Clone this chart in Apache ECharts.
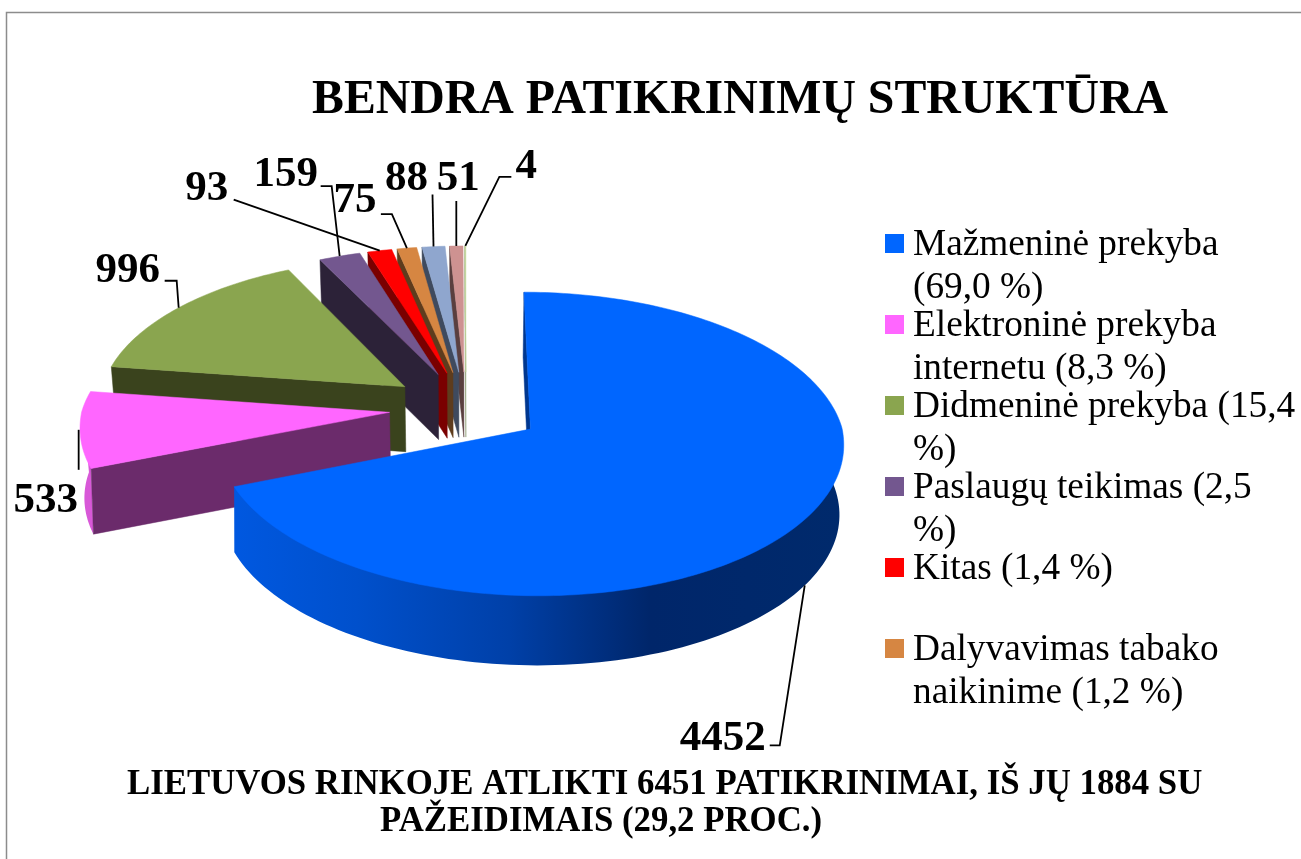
<!DOCTYPE html>
<html><head><meta charset="utf-8">
<style>html,body{margin:0;padding:0;background:#fff}#c{width:1301px;height:859px}</style>
<script src="https://cdn.jsdelivr.net/npm/echarts@6/dist/echarts.min.js"></script>
</head><body><div id="c"></div>
<script>
const categories = [
  'Mažmeninė prekyba\n(69,0 %)',
  'Elektroninė prekyba\ninternetu (8,3 %)',
  'Didmeninė prekyba (15,4\n%)',
  'Paslaugų teikimas (2,5\n%)',
  'Kitas (1,4 %)\n ',
  'Dalyvavimas tabako\nnaikinime (1,2 %)',
  'Kita veikla A',
  'Kita veikla B',
  'Kita veikla C'
];
const legendCount = 6;
const values = [4452, 533, 996, 159, 93, 75, 88, 51, 4];
const topColors = ['#0066FF','#FF66FF','#8AA54F','#73578F','#FF0000','#D68642','#8FA6CE','#CE9291','#C3D69B'];
const wallColors = ['#00378F','#6B2B6B','#3A431D','#2C2238','#7A0000','#5E3C1D','#3F4A5E','#5A3F3F','#8A9A70'];
const rimColors = [null,'#D858D8','#6E8440','#5A4470','#C00000','#A86834','#7085A5','#A07070','#9AAA7A'];

// Label leader layout: [elbow dx, dy, end dx, dy, text x offset, y offset] relative to the slice's rim mid-point
const leaders = [
  [-25,160,-35,160,-82,154],
  [0,40,0,40,-33,71],
  [-2,-27,-14,-27,-51,-37],
  [-8,-70,-19,-70,-54,-81],
  [-146,-51,-146,-51,-173,-62],
  [-15,-34,-26,-34,-52,-47],
  [-1,-52,-1,-52,-27,-68],
  [0,-45,0,-45,2,-67],
  [34,-69,46,-69,61,-79]
];

// Projection of the tilted pie
const P = {cx:466, cy:408, rx:307, ry:147.5, p:0.11, depth:65, shrink:0.985, explode:0.25, faceInset:0.024};
function proj(u, v, low){
  const w = 1 + P.p*v;
  let x = P.cx + P.rx*u/w, y = P.cy - P.ry*v/w;
  if (low){ x = P.cx + (x-P.cx)*P.shrink; y += P.depth; }
  return [x, y];
}
const total = values.reduce((a,b)=>a+b,0);
function sliceAngles(i){
  let s = 0; for (let k=0;k<i;k++) s += values[k];
  return [s/total*Math.PI*2, (s+values[i])/total*Math.PI*2];
}
function makeRender(i){
  return function(params, api){
    const [a,b] = sliceAngles(i);
    const mid = (a+b)/2;
    const ou = P.explode*Math.sin(mid), ov = P.explode*Math.cos(mid);
    const pt = (t,low)=>proj(ou+Math.sin(t), ov+Math.cos(t), low);
    // top face is very slightly tucked in along the front, as in the perspective of the picture
    const facePt = (t,extra)=>{
      const f = (1 - P.faceInset*Math.pow(Math.max(0,-Math.cos(t)),0.8))*(extra||1);
      return proj(ou+f*Math.sin(t), ov+f*Math.cos(t), false);
    };
    const apex = proj(ou,ov,false), apexLow = proj(ou,ov,true);
    const steps = Math.max(2, Math.ceil((b-a)/0.02));
    const top = [apex];
    for (let s=0;s<=steps;s++) top.push(facePt(a+(b-a)*s/steps));
    const children = [];
    // outer rim: its upper edge runs under the top face
    const ra = Math.max(a, 70*Math.PI/180), rb = Math.min(b, 272*Math.PI/180);
    if (rb > ra){
      const up=[], lo=[];
      for (let s=0;s<=120;s++){
        const t=ra+(rb-ra)*s/120;
        up.push(facePt(t,(s===0||s===120)?1:0.95));
        lo.unshift(pt(t,true));
      }
      const fill = rimColors[i] || new echarts.graphic.LinearGradient(235,0,845,0,[
        {offset:0,color:'#0058E0'},{offset:0.2,color:'#0050CC'},{offset:0.45,color:'#0040A8'},
        {offset:0.68,color:'#00266A'},{offset:1,color:'#002A6C'}],true);
      children.push({type:'polygon',silent:true,shape:{points:up.concat(lo)},style:{fill}});
    }
    // radial wall at the first edge of the slice
    const p0=facePt(a), p0l=pt(a,true);
    children.push({type:'polygon',silent:true,shape:{points:[apex,p0,p0l,apexLow]},style:{fill:wallColors[i],stroke:wallColors[i],lineWidth:0.5}});
    // top face
    children.push({type:'polygon',silent:true,shape:{points:top},style:{fill:topColors[i],stroke:topColors[i],lineWidth:0.5}});
    // leader line and value label
    const anchor = pt(mid, i===0);
    const L = leaders[i];
    children.push({type:'polyline',silent:true,shape:{points:[anchor,[anchor[0]+L[0],anchor[1]+L[1]],[anchor[0]+L[2],anchor[1]+L[3]]]},
      style:{stroke:'#000',lineWidth:1.8,fill:null}});
    children.push({type:'text',silent:true,x:anchor[0]+L[4],y:anchor[1]+L[5],
      style:{text:String(api.value(0)),fill:'#000',font:'bold 43px "Liberation Serif"',align:'center',verticalAlign:'middle'}});
    return {type:'group',children};
  };
}
const series = [];
for (let i=values.length-1;i>=0;i--){
  series.push({type:'custom',name:categories[i],coordinateSystem:'none',renderItem:makeRender(i),
    data:[values[i]],silent:true,animation:false,itemStyle:{color:topColors[i]},z:2+values.length-i});
}
const chart = echarts.init(document.getElementById('c'),null,{renderer:'canvas'});
chart.setOption({
  animation:false,
  backgroundColor:'#fff',
  title:[
    {text:'BENDRA PATIKRINIMŲ STRUKTŪRA',left:312,top:77,padding:0,textStyle:{fontFamily:'Liberation Serif',fontWeight:'bold',fontSize:47.8,color:'#000'}},
    {text:'LIETUVOS RINKOJE ATLIKTI 6451 PATIKRINIMAI, IŠ JŲ 1884 SU',left:127,top:768,padding:0,textStyle:{fontFamily:'Liberation Serif',fontWeight:'bold',fontSize:34.8,color:'#000'}},
    {text:'PAŽEIDIMAIS (29,2 PROC.)',left:380,top:805,padding:0,textStyle:{fontFamily:'Liberation Serif',fontWeight:'bold',fontSize:34.8,color:'#000'}}
  ],
  legend:{
    orient:'vertical',left:885,top:223.5,padding:0,width:416,height:600,
    data:categories.slice(0,legendCount),
    itemWidth:19,itemHeight:65,itemGap:-5,selectedMode:false,
    icon:'path://M0 0H19V19H0Z M0 65L0 65',
    textStyle:{fontFamily:'Liberation Serif',fontSize:37.3,lineHeight:43,color:'#000',padding:[0,0,0,4]}
  },
  graphic:[{type:'polyline',silent:true,shape:{points:[[6.5,859],[6.5,12.5],[1301,12.5]]},style:{stroke:'#8C8C8C',lineWidth:1.5,fill:null}}],
  series
});
</script></body></html>
